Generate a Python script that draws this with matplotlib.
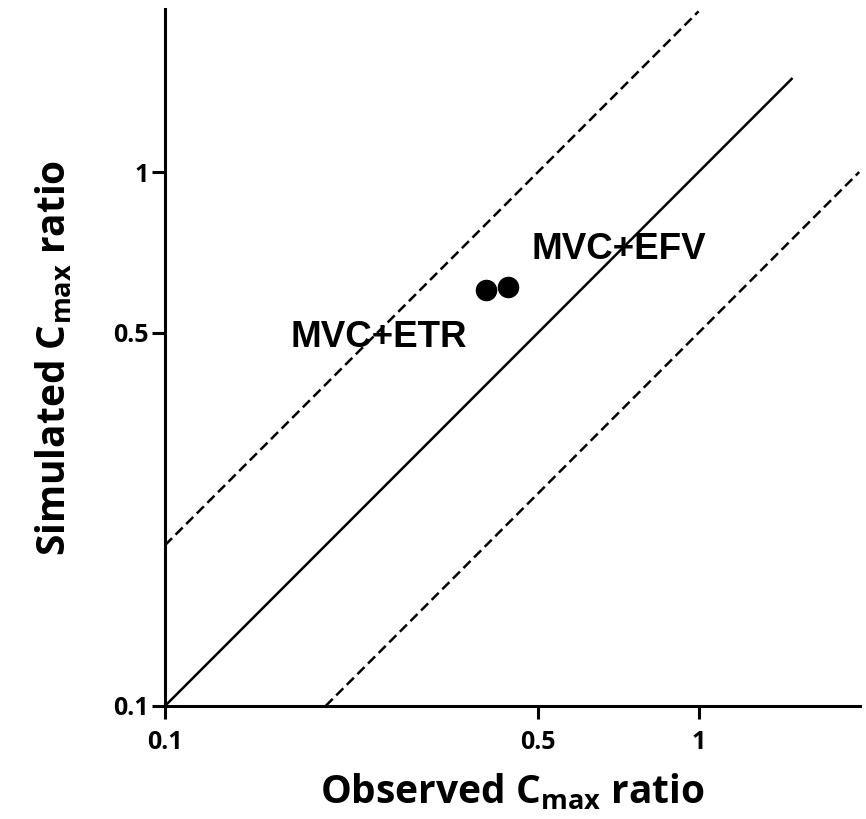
import matplotlib
matplotlib.use("Agg")
import matplotlib.pyplot as plt
import numpy as np

plt.rcParams["mathtext.fontset"] = "custom"
plt.rcParams["mathtext.rm"] = "Open Sans:bold"
plt.rcParams["mathtext.bf"] = "Open Sans:bold"

# observed vs simulated Cmax ratios
labels = ["MVC+ETR", "MVC+EFV"]
observed = [0.40, 0.44]
simulated = [0.60, 0.61]

# reference lines: unity and two-fold bounds
unity_x = [0.1, 1.5]
upper_x = [0.1, 1.0]      # y = 2x
lower_x = [0.2, 2.0]      # y = 0.5x

ticks = [0.1, 0.5, 1]
tick_labels = ["0.1", "0.5", "1"]

fig = plt.figure(figsize=(8.66, 8.19), dpi=100)
ax = fig.add_axes([0.1905, 0.138, 0.803, 0.851])

ax.set_xscale("log")
ax.set_yscale("log")
ax.set_xlim(0.1, 2.01)
ax.set_ylim(0.1, 2.02)

ax.plot(unity_x, unity_x, color="black", lw=1.8, solid_capstyle="butt")
ax.plot(upper_x, [2 * v for v in upper_x], color="black", lw=1.8,
        linestyle=(0, (4, 2)))
ax.plot(lower_x, [0.5 * v for v in lower_x], color="black", lw=1.8,
        linestyle=(0, (4, 2)))

ax.plot(observed, simulated, "o", color="black", markersize=14.5,
        linestyle="none", zorder=5)

ann = {"MVC+ETR": (0.1716, 0.470), "MVC+EFV": (0.486, 0.687)}
for lab in labels:
    ax.text(*ann[lab], lab, fontsize=26.5, fontweight="bold",
            family="Liberation Sans", ha="left", va="baseline")

for side in ("top", "right"):
    ax.spines[side].set_visible(False)
for side in ("left", "bottom"):
    ax.spines[side].set_linewidth(2.2)

ax.set_xticks(ticks)
ax.set_xticklabels(tick_labels)
ax.set_yticks(ticks)
ax.set_yticklabels(tick_labels)
ax.minorticks_off()
ax.tick_params(axis="both", length=9.5, width=2.2, direction="out")
ax.tick_params(axis="y", pad=2)
ax.tick_params(axis="x", pad=8)
for t in ax.get_xticklabels() + ax.get_yticklabels():
    t.set_fontsize(18)
    t.set_fontweight("bold")
    t.set_family("Open Sans")

ax.set_xlabel(r"Observed C$_{\mathrm{max}}$ ratio", fontsize=28,
              fontweight="bold", family="Open Sans", labelpad=12)
ax.set_ylabel(r"Simulated C$_{\mathrm{max}}$ ratio", fontsize=28,
              fontweight="bold", family="Open Sans", labelpad=28)

fig.savefig("out.png", dpi=100)
